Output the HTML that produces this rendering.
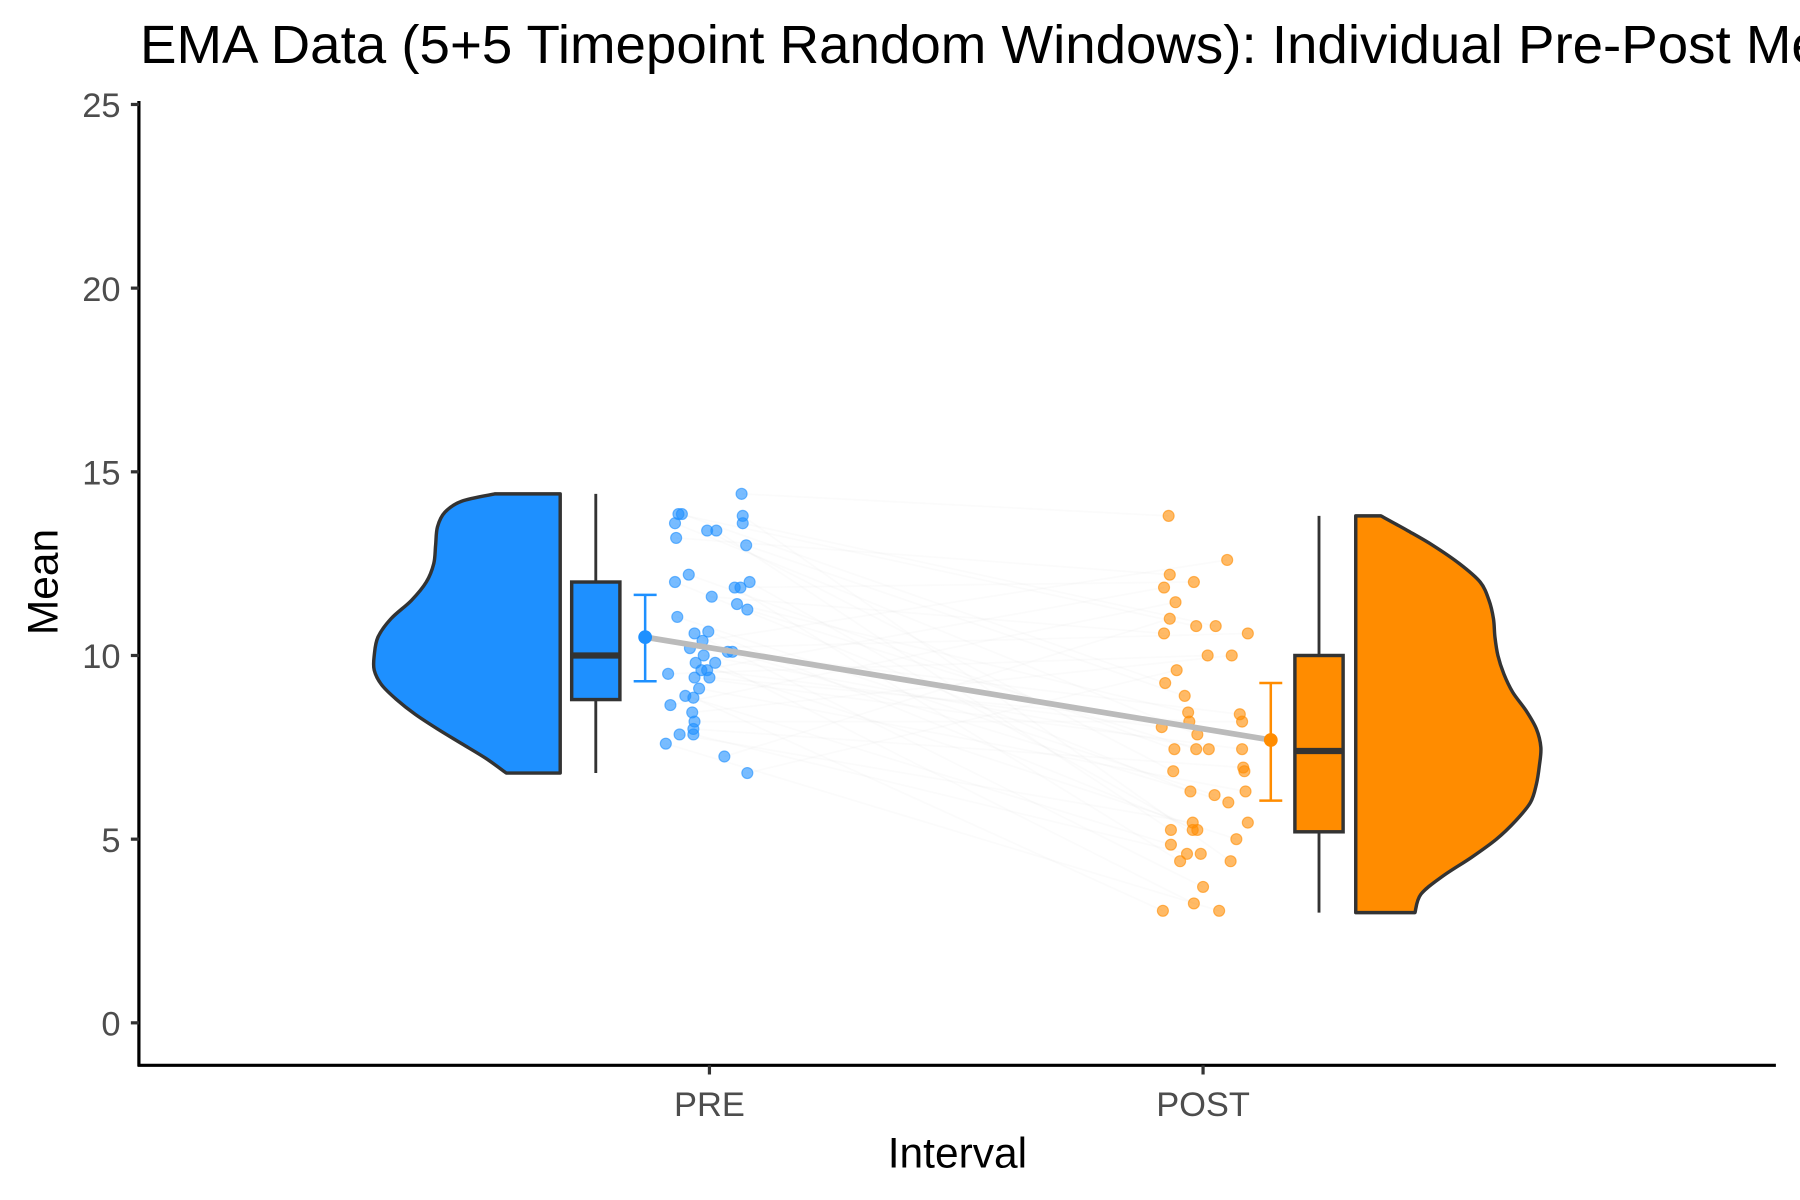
<!DOCTYPE html>
<html><head><meta charset="utf-8"><style>
html,body{margin:0;padding:0;background:#fff;overflow:hidden}
svg{display:block}
text{font-family:"Liberation Sans",Arial,sans-serif}
</style></head><body>
<svg id="chart" width="1800" height="1200" viewBox="0 0 1568 1045.33" xmlns="http://www.w3.org/2000/svg">
<text x="122" y="55" font-size="47" fill="#000" textLength="1698" lengthAdjust="spacingAndGlyphs">EMA Data (5+5 Timepoint Random Windows): Individual Pre-Post Mean Change</text>
<g id="plot"></g>
<text transform="translate(50,507) rotate(-90)" text-anchor="middle" font-size="37" fill="#000">Mean</text>
<text x="834" y="1017" text-anchor="middle" font-size="37" fill="#000">Interval</text>
</svg>
<script>
const categories = ["PRE","POST"];
const yTicks = [0,5,10,15,20,25];
const preValues = [14.4,13.85,13.85,13.6,13.4,13.4,13.8,13.2,13.6,13.0,12.2,12.0,12.0,11.85,11.85,11.6,11.4,11.25,11.05,10.65,10.6,10.4,10.2,10.1,10.0,10.1,9.8,9.8,9.6,9.5,9.4,9.4,9.1,8.9,8.85,8.65,8.45,8.2,8.0,7.85,7.85,7.6,7.25,6.8,9.6];
const preJitter = [646,591,594,588,616,624,647,589,647,650,600,588,653,640,645,620,642,651,590,617,605,612,601,634,613,638,606,623,611,582,618,605,609,597,604,584,603,605,604,592,604,580,631,651,616];
const postValues = [13.8,12.2,12.0,12.6,11.85,11.45,11.0,10.8,10.8,10.6,10.6,10.0,10.0,9.6,9.25,8.9,8.45,8.4,8.2,8.2,8.05,7.85,7.45,7.45,7.45,7.45,6.95,6.85,6.85,6.3,6.2,6.0,6.3,5.45,5.45,5.25,5.25,5.25,5.0,4.85,4.6,4.6,4.4,4.4,3.7,3.25,3.05,3.05];
const postJitter = [1018,1019,1040,1069,1014,1024,1019,1042,1059,1014,1087,1052,1073,1025,1015,1032,1035,1080,1036,1082,1012,1043,1023,1042,1053,1082,1083,1084,1022,1037,1058,1070,1085,1039,1087,1020,1039,1043,1077,1020,1034,1046,1072,1028,1048,1040,1013,1062];
const preBox = {min:6.8,q1:8.8,med:10,q3:12,max:14.4};
const postBox = {min:3,q1:5.2,med:7.4,q3:10,max:13.8};
const means = [10.5,7.7];
const ciLow = [9.3,6.05];
const ciHigh = [11.65,9.25];
const preDensV = [14.4,14.2,13.9,13.5,13.0,12.5,12.0,11.5,11.0,10.5,10.0,9.6,9.2,8.8,8.4,8.0,7.6,7.2,6.8];
const preDensW = [0.35,0.53,0.62,0.66,0.67,0.68,0.72,0.80,0.91,0.98,1.0,1.0,0.96,0.88,0.78,0.66,0.53,0.40,0.29];
const postDensV = [13.8,13.4,13.0,12.5,12.0,11.5,11.0,10.5,10.0,9.5,9.0,8.5,8.0,7.5,7.0,6.5,6.0,5.5,5.0,4.5,4.0,3.5,3.0];
const postDensW = [0.17,0.35,0.52,0.70,0.84,0.90,0.93,0.94,0.96,1.0,1.06,1.15,1.22,1.25,1.24,1.22,1.18,1.08,0.95,0.78,0.59,0.44,0.40];

const NS="http://www.w3.org/2000/svg";
const plot=document.getElementById('plot');
const y = v => 891 - 32*v;
const xCat = i => [618,1048][i];
function mk(tag, attrs){const e=document.createElementNS(NS,tag);for(const k in attrs)e.setAttribute(k,attrs[k]);plot.appendChild(e);return e;}
function smooth(pts){
  let d=`M${pts[0][0]},${pts[0][1]}`;
  for(let i=0;i<pts.length-1;i++){
    const p0=pts[Math.max(0,i-1)],p1=pts[i],p2=pts[i+1],p3=pts[Math.min(pts.length-1,i+2)];
    d+=` C${p1[0]+(p2[0]-p0[0])/6},${p1[1]+(p2[1]-p0[1])/6} ${p2[0]-(p3[0]-p1[0])/6},${p2[1]-(p3[1]-p1[1])/6} ${p2[0]},${p2[1]}`;
  }
  return d;
}

for(let i=0;i<Math.min(preValues.length,postValues.length);i++){
  const j=(i*7)%postValues.length;
  const l=mk('line',{x1:preJitter[i],y1:y(preValues[i]),x2:postJitter[j],y2:y(postValues[j]),stroke:'#ccc','stroke-width':1.5,'stroke-opacity':0.08});
  
  
}

(function(){
  const right=488, maxW=162;
  const pts=preDensV.map((v,i)=>[right-preDensW[i]*maxW,y(v)]);
  const d=`M${right},${y(preDensV[0])} L`+smooth(pts).slice(1)+` L${right},${y(preDensV[preDensV.length-1])} Z`;
  const p=mk('path',{d:d,fill:'#1E90FF',stroke:'#333','stroke-width':3,'stroke-linejoin':'round'});
  
  
})();
(function(){
  const left=1181, maxW=129;
  const pts=postDensV.map((v,i)=>[left+postDensW[i]*maxW,y(v)]);
  const d=`M${left},${y(postDensV[0])} L`+smooth(pts).slice(1)+` L${left},${y(postDensV[postDensV.length-1])} Z`;
  const p=mk('path',{d:d,fill:'#FF8C00',stroke:'#333','stroke-width':3,'stroke-linejoin':'round'});
  
  
})();

function box(b,cx,color,name){
  const w=mk('line',{x1:cx,x2:cx,y1:y(b.min),y2:y(b.max),stroke:'#333','stroke-width':2.5});
  
  
  const r=mk('rect',{x:cx-21,y:y(b.q3),width:42,height:y(b.q1)-y(b.q3),fill:color,stroke:'#333','stroke-width':3});
  
  
  const m=mk('line',{x1:cx-21,x2:cx+21,y1:y(b.med),y2:y(b.med),stroke:'#333','stroke-width':5.5});
  
  
}
box(preBox,519,'#1E90FF','pre');
box(postBox,1149,'#FF8C00','post');

preValues.forEach((v,i)=>{
  const c=mk('circle',{cx:preJitter[i],cy:y(v),r:4.8,fill:'#1E90FF','fill-opacity':0.6,stroke:'#1E90FF','stroke-opacity':0.6});
  
  
});
postValues.forEach((v,i)=>{
  const c=mk('circle',{cx:postJitter[i],cy:y(v),r:4.8,fill:'#FF8C00','fill-opacity':0.6,stroke:'#FF8C00','stroke-opacity':0.6});
  
  
});

const errX=[562,1107];
const ml=mk('line',{x1:errX[0],y1:y(means[0]),x2:errX[1],y2:y(means[1]),stroke:'#bbb','stroke-width':5});


const colors=['#1E90FF','#FF8C00'];
means.forEach((m,i)=>{
  const g=[['line',{x1:errX[i],x2:errX[i],y1:y(ciLow[i]),y2:y(ciHigh[i])}],['line',{x1:errX[i]-10,x2:errX[i]+10,y1:y(ciLow[i]),y2:y(ciLow[i])}],['line',{x1:errX[i]-10,x2:errX[i]+10,y1:y(ciHigh[i]),y2:y(ciHigh[i])}]];
  g.forEach(([t,a])=>{a.stroke=colors[i];a['stroke-width']=2.2;const e=mk(t,a);
    
    });
  const c=mk('circle',{cx:errX[i],cy:y(m),r:6,fill:colors[i]});
  
  
});

const ya=mk('line',{x1:121,x2:121,y1:88,y2:929,stroke:'#000','stroke-width':2.8});


const xa=mk('line',{x1:120,x2:1547,y1:928,y2:928,stroke:'#000','stroke-width':2.8});


yTicks.forEach(t=>{
  const l=mk('line',{x1:114,x2:121,y1:y(t),y2:y(t),stroke:'#333','stroke-width':2.8});
  
  
  const tx=mk('text',{x:105,y:y(t)+11,'text-anchor':'end','font-size':30,fill:'#4d4d4d'});
  tx.textContent=t;
  
  
});
categories.forEach((c,i)=>{
  const l=mk('line',{x1:xCat(i),x2:xCat(i),y1:928,y2:936,stroke:'#333','stroke-width':2.8});
  
  
  const tx=mk('text',{x:xCat(i),y:972,'text-anchor':'middle','font-size':30,fill:'#4d4d4d'});
  tx.textContent=c;
  
  
});
</script>
</body></html>
